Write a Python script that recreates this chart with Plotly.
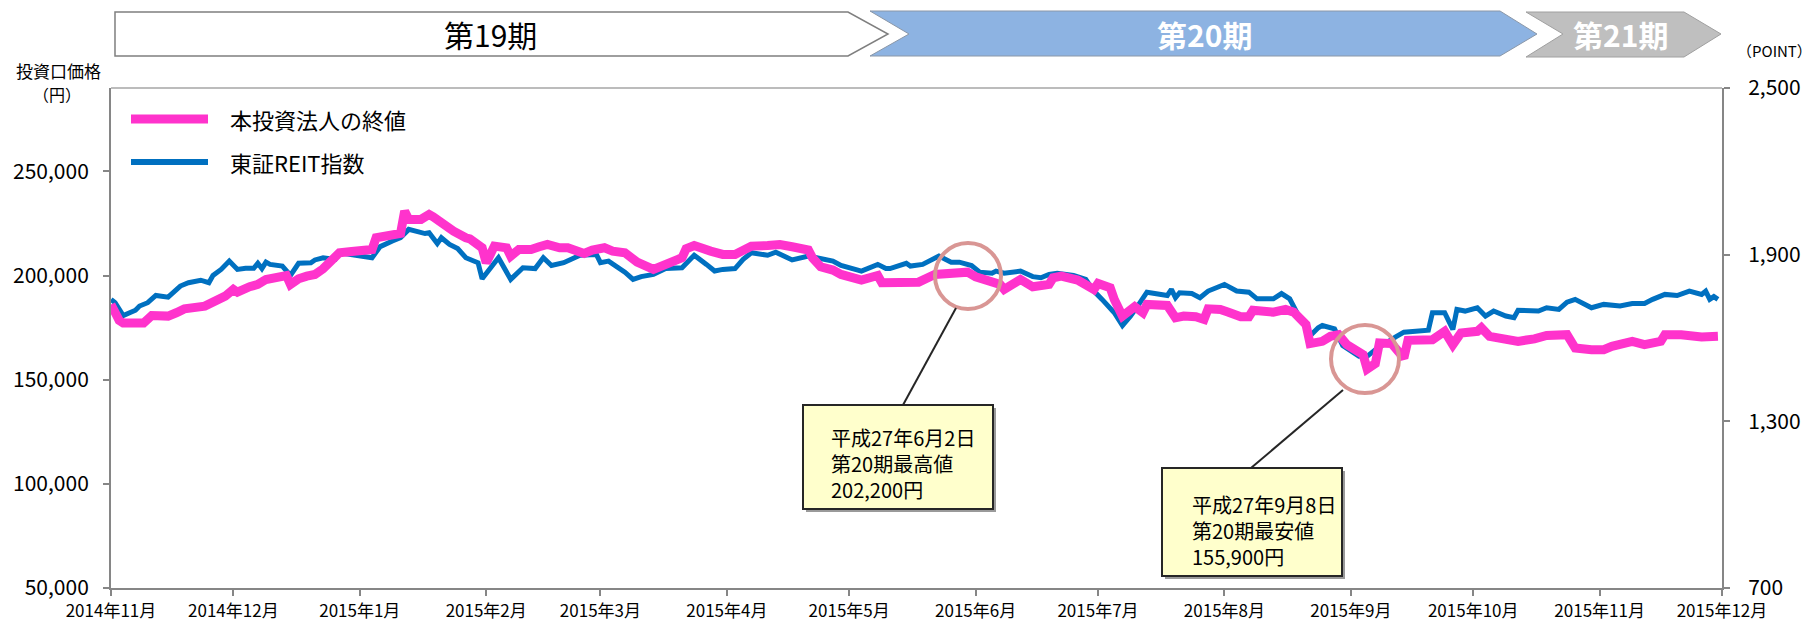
import plotly.graph_objects as go

# ---------------- data ----------------
PINK_NAME = "本投資法人の終値"
BLUE_NAME = "東証REIT指数"

PINK_DATES = [
    "2014-11-01", "2014-11-03", "2014-11-04", "2014-11-09", "2014-11-11", "2014-11-15", "2014-11-17",
    "2014-11-19", "2014-11-24", "2014-11-26", "2014-11-27", "2014-11-29", "2014-12-01", "2014-12-02",
    "2014-12-05", "2014-12-07", "2014-12-09", "2014-12-12", "2014-12-14", "2014-12-15", "2014-12-17",
    "2014-12-19", "2014-12-21", "2014-12-23", "2014-12-25", "2014-12-27", "2014-12-30", "2015-01-03",
    "2015-01-04", "2015-01-05", "2015-01-08", "2015-01-11", "2015-01-12", "2015-01-13", "2015-01-16",
    "2015-01-18", "2015-01-19", "2015-01-21", "2015-01-24", "2015-01-27", "2015-01-28", "2015-01-31",
    "2015-02-01", "2015-02-02", "2015-02-03", "2015-02-06", "2015-02-07", "2015-02-09", "2015-02-12",
    "2015-02-14", "2015-02-16", "2015-02-19", "2015-02-21", "2015-02-25", "2015-02-27", "2015-03-02",
    "2015-03-04", "2015-03-07", "2015-03-10", "2015-03-14", "2015-03-17", "2015-03-19", "2015-03-21",
    "2015-03-22", "2015-03-24", "2015-03-28", "2015-03-31", "2015-04-03", "2015-04-07", "2015-04-11",
    "2015-04-14", "2015-04-17", "2015-04-21", "2015-04-22", "2015-04-24", "2015-04-27", "2015-04-29",
    "2015-05-04", "2015-05-08", "2015-05-09", "2015-05-15", "2015-05-18", "2015-05-22", "2015-05-28",
    "2015-05-30", "2015-06-01", "2015-06-05", "2015-06-07", "2015-06-08", "2015-06-12", "2015-06-15",
    "2015-06-19", "2015-06-20", "2015-06-22", "2015-06-26", "2015-06-28", "2015-06-30", "2015-07-01",
    "2015-07-04", "2015-07-05", "2015-07-07", "2015-07-10", "2015-07-12", "2015-07-13", "2015-07-18",
    "2015-07-20", "2015-07-22", "2015-07-25", "2015-07-27", "2015-07-28", "2015-07-31", "2015-08-02",
    "2015-08-05", "2015-08-07", "2015-08-08", "2015-08-13", "2015-08-16", "2015-08-18", "2015-08-21",
    "2015-08-22", "2015-08-25", "2015-08-27", "2015-08-29", "2015-08-31", "2015-09-02", "2015-09-04",
    "2015-09-05", "2015-09-07", "2015-09-08", "2015-09-09", "2015-09-11", "2015-09-14", "2015-09-15",
    "2015-09-21", "2015-09-24", "2015-09-26", "2015-09-28", "2015-10-02", "2015-10-03", "2015-10-05",
    "2015-10-12", "2015-10-16", "2015-10-19", "2015-10-24", "2015-10-26", "2015-10-30", "2015-11-02",
    "2015-11-04", "2015-11-09", "2015-11-12", "2015-11-16", "2015-11-17", "2015-11-21", "2015-11-26",
    "2015-11-30",
]
PINK_VALUES = [
    186100, 178500, 177200, 177200, 180800, 180500, 182100,
    184000, 185300, 186900, 188800, 190100, 193300, 192000,
    194600, 195700, 198100, 199400, 200000, 195700, 198400,
    199700, 200500, 203200, 207700, 210900, 211500, 211500,
    212500, 218100, 219200, 220200, 230900, 226900, 226900,
    229300, 228200, 225000, 221300, 218100, 217600, 213300,
    206100, 210100, 214100, 213300, 209300, 212500, 212500,
    213800, 214900, 213300, 213300, 210600, 212200, 213300,
    211700, 210900, 206400, 202900, 205800, 207400, 208500,
    212800, 214400, 211700, 210100, 210100, 214100, 214400,
    214900, 213800, 212200, 208500, 204200, 202600, 200500,
    197800, 200000, 196500, 196200, 196800, 200500, 201300,
    201600, 199400, 196800, 195700, 193300, 198100, 194600,
    195700, 198900, 199700, 197800, 194900, 193300, 196200,
    194100, 188500, 180500, 185000, 182100, 186100, 185600,
    179700, 180500, 180200, 178900, 184000, 183700, 182400,
    180200, 180200, 183300, 182400, 183700, 182400, 176500,
    167300, 168400, 170800, 171600, 166800, 164400, 162000,
    155100, 157700, 167600, 167300, 167300, 160400, 168900,
    169200, 173200, 166800, 172400, 173200, 174900, 170800,
    168400, 169600, 171200, 171600, 165200, 164400, 164400,
    166000, 168400, 166800, 168400, 171600, 171600, 170500,
    170800,
]

BLUE_DATES = [
    "2014-11-01", "2014-11-02", "2014-11-04", "2014-11-07", "2014-11-08", "2014-11-10", "2014-11-12",
    "2014-11-15", "2014-11-18", "2014-11-20", "2014-11-23", "2014-11-25", "2014-11-26", "2014-11-28",
    "2014-11-30", "2014-12-02", "2014-12-04", "2014-12-06", "2014-12-07", "2014-12-08", "2014-12-09",
    "2014-12-10", "2014-12-13", "2014-12-14", "2014-12-15", "2014-12-17", "2014-12-20", "2014-12-21",
    "2014-12-23", "2014-12-26", "2014-12-27", "2015-01-04", "2015-01-06", "2015-01-09", "2015-01-11",
    "2015-01-13", "2015-01-17", "2015-01-18", "2015-01-20", "2015-01-21", "2015-01-23", "2015-01-25",
    "2015-01-27", "2015-01-30", "2015-01-31", "2015-02-04", "2015-02-07", "2015-02-10", "2015-02-13",
    "2015-02-15", "2015-02-17", "2015-02-20", "2015-02-22", "2015-02-24", "2015-02-28", "2015-03-01",
    "2015-03-03", "2015-03-07", "2015-03-09", "2015-03-11", "2015-03-14", "2015-03-17", "2015-03-21",
    "2015-03-23", "2015-03-24", "2015-03-27", "2015-03-29", "2015-03-31", "2015-04-03", "2015-04-05",
    "2015-04-07", "2015-04-11", "2015-04-13", "2015-04-17", "2015-04-21", "2015-04-23", "2015-04-26",
    "2015-04-27", "2015-04-29", "2015-05-04", "2015-05-08", "2015-05-10", "2015-05-11", "2015-05-15",
    "2015-05-16", "2015-05-19", "2015-05-23", "2015-05-26", "2015-05-28", "2015-05-31", "2015-06-02",
    "2015-06-05", "2015-06-06", "2015-06-08", "2015-06-12", "2015-06-15", "2015-06-17", "2015-06-19",
    "2015-06-21", "2015-06-25", "2015-06-28", "2015-06-30", "2015-07-02", "2015-07-05", "2015-07-07",
    "2015-07-09", "2015-07-11", "2015-07-13", "2015-07-18", "2015-07-19", "2015-07-20", "2015-07-21",
    "2015-07-24", "2015-07-26", "2015-07-28", "2015-08-01", "2015-08-04", "2015-08-07", "2015-08-09",
    "2015-08-13", "2015-08-15", "2015-08-17", "2015-08-19", "2015-08-21", "2015-08-22", "2015-08-24",
    "2015-08-25", "2015-08-28", "2015-08-30", "2015-09-01", "2015-09-03", "2015-09-05", "2015-09-07",
    "2015-09-12", "2015-09-14", "2015-09-20", "2015-09-21", "2015-09-24", "2015-09-26", "2015-09-27",
    "2015-09-29", "2015-10-02", "2015-10-04", "2015-10-06", "2015-10-09", "2015-10-11", "2015-10-12",
    "2015-10-17", "2015-10-19", "2015-10-22", "2015-10-24", "2015-10-26", "2015-10-30", "2015-11-02",
    "2015-11-06", "2015-11-09", "2015-11-12", "2015-11-14", "2015-11-17", "2015-11-20", "2015-11-23",
    "2015-11-26", "2015-11-27", "2015-11-28", "2015-11-29", "2015-11-30",
]
BLUE_VALUES = [
    1739, 1727, 1681, 1700, 1715, 1727, 1753,
    1747, 1787, 1799, 1808, 1799, 1825, 1847,
    1877, 1847, 1851, 1851, 1869, 1850, 1873,
    1865, 1859, 1841, 1825, 1869, 1871, 1881,
    1889, 1883, 1907, 1889, 1929, 1949, 1961,
    1991, 1976, 1979, 1940, 1961, 1937, 1922,
    1889, 1871, 1813, 1889, 1811, 1853, 1850,
    1889, 1861, 1871, 1886, 1898, 1901, 1871,
    1877, 1837, 1811, 1821, 1829, 1850, 1853,
    1886, 1898, 1865, 1841, 1847, 1850, 1883,
    1907, 1898, 1909, 1881, 1895, 1889, 1877,
    1877, 1861, 1841, 1865, 1850, 1850, 1869,
    1859, 1865, 1895, 1873, 1873, 1861, 1837,
    1833, 1841, 1833, 1841, 1821, 1817, 1829,
    1833, 1825, 1811, 1769, 1739, 1691, 1645,
    1679, 1721, 1765, 1753, 1775, 1745, 1763,
    1760, 1745, 1769, 1793, 1769, 1765, 1741,
    1741, 1760, 1741, 1685, 1645, 1608, 1637,
    1645, 1633, 1573, 1552, 1534, 1534, 1558,
    1604, 1621, 1628, 1691, 1691, 1631, 1703,
    1697, 1709, 1679, 1697, 1679, 1673, 1700,
    1697, 1709, 1703, 1729, 1739, 1709, 1721,
    1715, 1724, 1724, 1739, 1757, 1753, 1769,
    1757, 1769, 1739, 1749, 1739,
]

MONTH_TICKS = [
    "2014-11-01", "2014-12-01", "2015-01-01", "2015-02-01", "2015-03-01", "2015-04-01", "2015-05-01",
    "2015-06-01", "2015-07-01", "2015-08-01", "2015-09-01", "2015-10-01", "2015-11-01", "2015-12-01",
]
MONTH_LABELS = [
    "2014年11月", "2014年12月", "2015年1月", "2015年2月", "2015年3月", "2015年4月", "2015年5月",
    "2015年6月", "2015年7月", "2015年8月", "2015年9月", "2015年10月", "2015年11月", "2015年12月",
]
PRICE_TICKS = [50000, 100000, 150000, 200000, 250000]
INDEX_TICKS = [700, 1300, 1900, 2500]
PERIOD_LABELS = ["第19期", "第20期", "第21期"]
HIGH_NOTE = ["平成27年6月2日", "第20期最高値", "202,200円"]
LOW_NOTE = ["平成27年9月8日", "第20期最安値", "155,900円"]

# ---------------- layout helpers ----------------
W, H = 1816, 622
ML, MR, MT, MB = 111, 94, 88, 34
PW = W - ML - MR
PH = H - MT - MB
FONT = "Noto Sans CJK JP"
AXIS_GRAY = "#868686"


def px(x):
    return (x - ML) / PW


def py(y):
    return (H - MB - y) / PH


def path(points):
    return "M " + " L ".join(f"{px(x):.5f},{py(y):.5f}" for x, y in points) + " Z"


fig = go.Figure()
fig.add_trace(go.Scatter(
    x=BLUE_DATES, y=BLUE_VALUES, name=BLUE_NAME, mode="lines", yaxis="y",
    line=dict(color="#0070C0", width=5), showlegend=False, hoverinfo="skip",
))
fig.add_trace(go.Scatter(
    x=PINK_DATES, y=PINK_VALUES, name=PINK_NAME, mode="lines", yaxis="y2",
    line=dict(color="#FF33CC", width=9), showlegend=False, hoverinfo="skip",
))

shapes = []
# top border of the plot area
shapes.append(dict(type="line", xref="paper", yref="paper", x0=0, x1=1, y0=1, y1=1,
                   line=dict(color="#a6a6a6", width=1.5)))
# period arrows
shapes.append(dict(type="path", xref="paper", yref="paper",
                   path=path([(115, 12), (848, 12), (888, 34), (848, 56), (115, 56)]),
                   fillcolor="white", line=dict(color="#7f7f7f", width=1.5)))
shapes.append(dict(type="path", xref="paper", yref="paper",
                   path=path([(870, 11), (1500, 11), (1537, 34), (1500, 56), (870, 56), (909, 34)]),
                   fillcolor="#8DB3E2", line=dict(color="#8a97a8", width=1)))
shapes.append(dict(type="path", xref="paper", yref="paper",
                   path=path([(1526, 12), (1684, 12), (1721, 34), (1684, 57), (1526, 57), (1563, 34)]),
                   fillcolor="#BFBFBF", line=dict(color="#a0a0a0", width=1)))
# legend swatches
shapes.append(dict(type="line", xref="paper", yref="paper", x0=px(131), x1=px(208), y0=py(119), y1=py(119),
                   line=dict(color="#FF33CC", width=9)))
shapes.append(dict(type="line", xref="paper", yref="paper", x0=px(131), x1=px(208), y0=py(162), y1=py(162),
                   line=dict(color="#0070C0", width=6)))
# callout circles
for cx, cy, r in [(968, 276, 33), (1365, 359, 34)]:
    shapes.append(dict(type="circle", xref="paper", yref="paper",
                       x0=px(cx - r), x1=px(cx + r), y0=py(cy - r), y1=py(cy + r),
                       line=dict(color="#D99694", width=4), layer="above"))
# connector lines
for (x0, y0), (x1, y1) in [((956, 308), (903, 405)), ((1343, 390), (1251, 468))]:
    shapes.append(dict(type="line", xref="paper", yref="paper",
                       x0=px(x0), y0=py(y0), x1=px(x1), y1=py(y1),
                       line=dict(color="#262626", width=2), layer="above"))
# callout boxes (shadow + box)
for (l, t, r, b) in [(803, 405, 993, 509), (1162, 468, 1342, 576)]:
    shapes.append(dict(type="rect", xref="paper", yref="paper",
                       x0=px(l + 3), x1=px(r + 3), y0=py(b + 3), y1=py(t + 3),
                       fillcolor="#9a9a9a", line=dict(width=0), layer="above"))
    shapes.append(dict(type="rect", xref="paper", yref="paper",
                       x0=px(l), x1=px(r), y0=py(b), y1=py(t),
                       fillcolor="#FFFFCC", line=dict(color="#262626", width=2), layer="above"))

annotations = []


def text(x, y, s, size, color="black", anchor="center", bold=False):
    if bold:
        s = f"<b>{s}</b>"
    annotations.append(dict(xref="paper", yref="paper", x=px(x), y=py(y), text=s, showarrow=False,
                            xanchor=anchor, yanchor="middle", align="left",
                            font=dict(family=FONT, size=size, color=color)))


text(490, 34, PERIOD_LABELS[0], 30)
text(1204, 34, PERIOD_LABELS[1], 30, color="white", bold=True)
text(1620, 34, PERIOD_LABELS[2], 30, color="white", bold=True)
text(58, 71, "投資口価格", 17)
text(57, 94, "（円）", 16)
text(1814, 51, "（POINT）", 15, anchor="right")
text(228, 119, PINK_NAME, 22, anchor="left")
text(228, 162, BLUE_NAME, 22, anchor="left")
text(829, 463, "<br>".join(HIGH_NOTE), 20, anchor="left")
text(1190, 530, "<br>".join(LOW_NOTE), 20, anchor="left")

common_axis = dict(
    ticks="outside", tickwidth=1.5, tickcolor=AXIS_GRAY,
    showline=True, linecolor=AXIS_GRAY, linewidth=2,
    showgrid=False, zeroline=False, automargin=False,
)

fig.update_layout(
    width=W, height=H, autosize=False,
    margin=dict(l=ML, r=MR, t=MT, b=MB, pad=0, autoexpand=False),
    paper_bgcolor="white", plot_bgcolor="white",
    font=dict(family=FONT, color="black"),
    showlegend=False,
    hovermode=False,
    xaxis=dict(
        type="date", range=["2014-11-01", "2015-12-01"],
        tickvals=MONTH_TICKS, ticktext=MONTH_LABELS, ticklen=6,
        tickfont=dict(family=FONT, size=17, color="black"),
        ticklabelstandoff=1,
        **common_axis,
    ),
    yaxis=dict(
        range=[700, 2500], side="right", tickvals=INDEX_TICKS, tickformat=",", ticklen=6,
        tickfont=dict(family=FONT, size=21, color="black"),
        ticklabelstandoff=14,
        **common_axis,
    ),
    yaxis2=dict(
        range=[50000, 290000], side="left", overlaying="y", tickvals=PRICE_TICKS, tickformat=",", ticklen=6,
        tickfont=dict(family=FONT, size=21, color="black"),
        ticklabelstandoff=10,
        **common_axis,
    ),
    shapes=shapes,
    annotations=annotations,
)

# remove the browser's default 8px body margin so the figure fills the window exactly
fig.write_html(
    "out.html",
    config={"displayModeBar": False},
    post_script="document.body.style.margin='0px';document.body.style.overflow='hidden';",
)
